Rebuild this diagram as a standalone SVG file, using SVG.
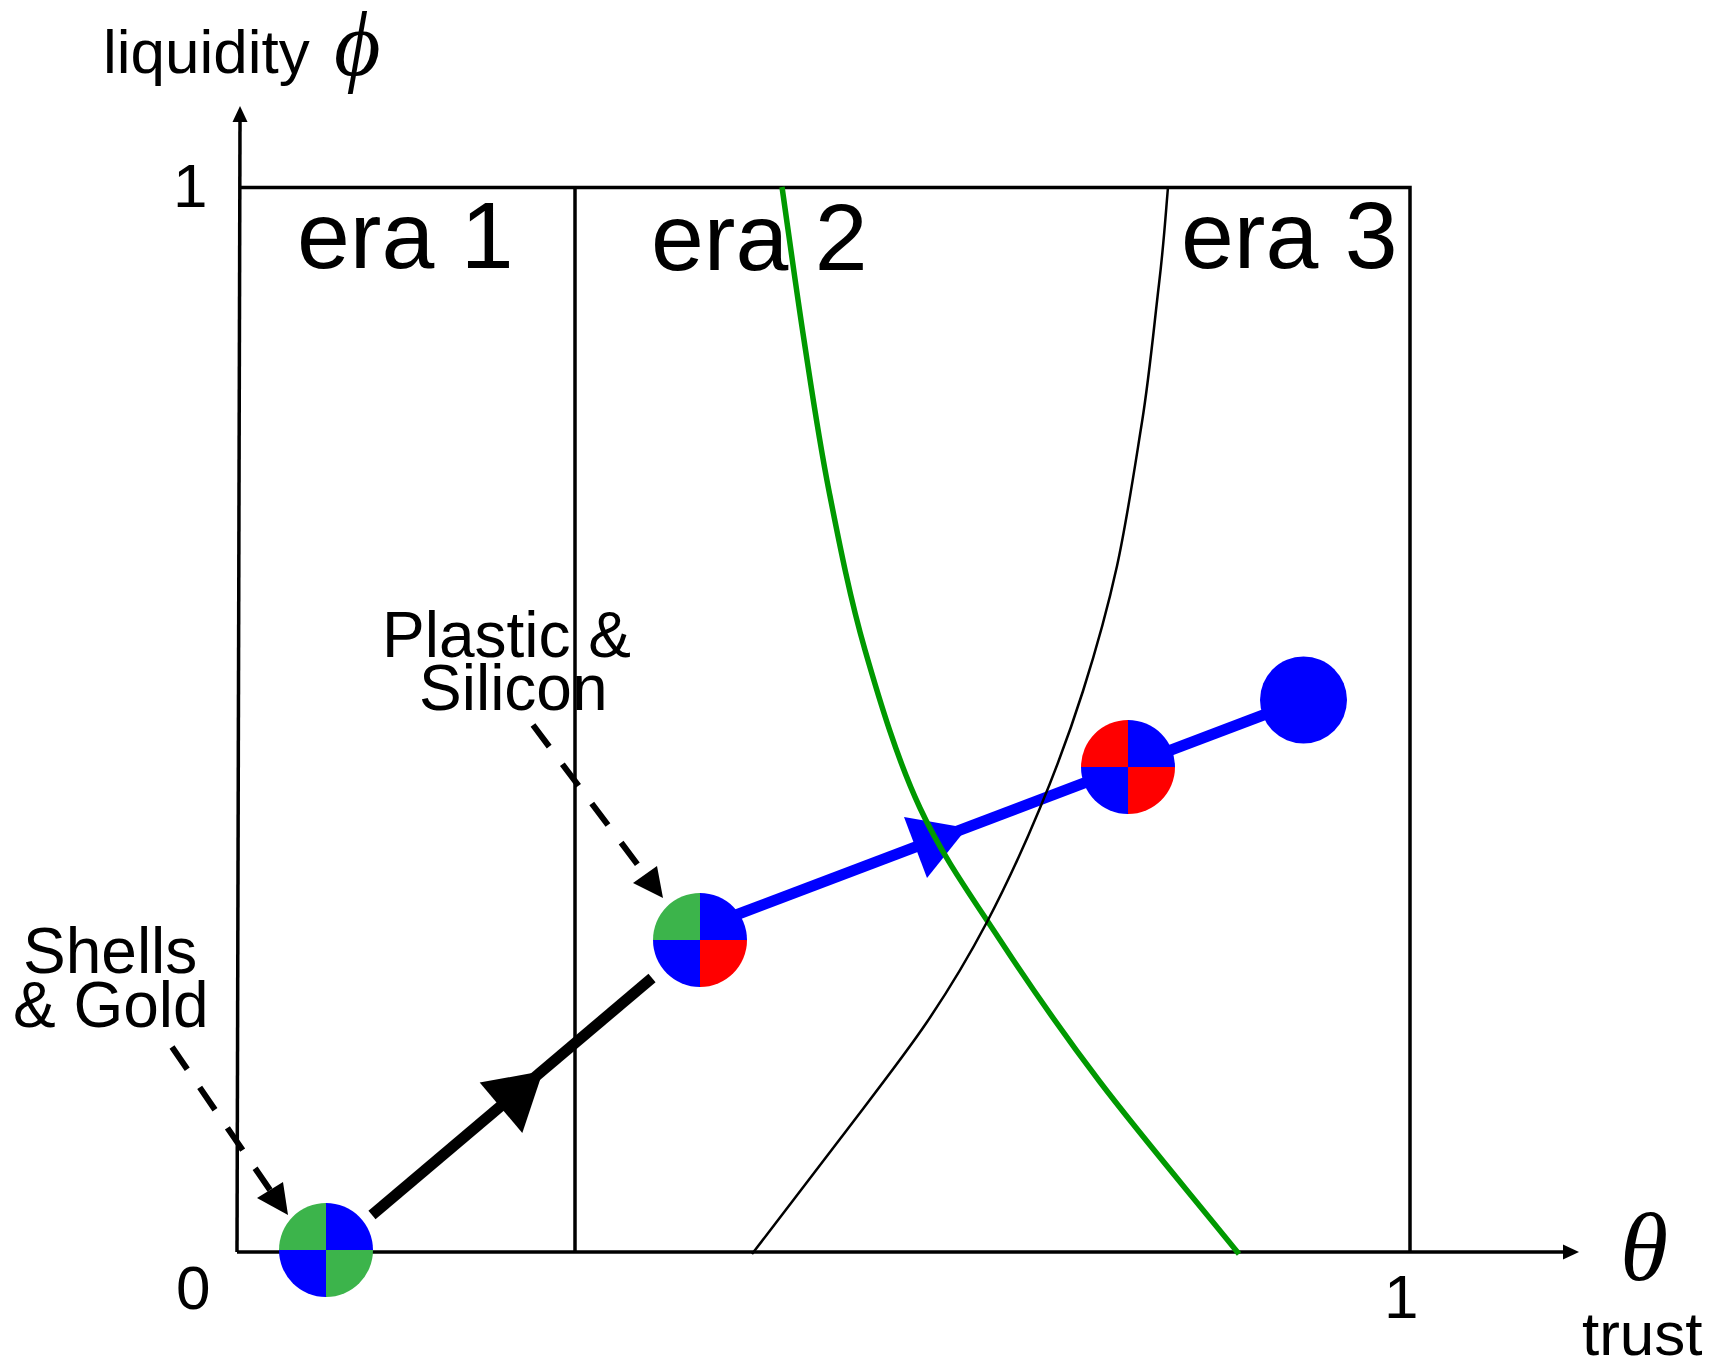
<svg xmlns="http://www.w3.org/2000/svg" xmlns:xlink="http://www.w3.org/1999/xlink" width="1715" height="1367" viewBox="0 0 1715 1367">
<style>
  .t { font-family: "Liberation Sans", Arial, sans-serif; fill: #000; }
  .lbl { font-size: 62px; }
  .note { font-size: 64px; }
  .era { font-size: 95px; }
  .greek { font-family: "Liberation Serif", "Times New Roman", serif; font-style: italic; fill: #000; }
  .ax { stroke: #000; stroke-width: 3.5; fill: none; }
  .dash { stroke: #000; stroke-width: 6; stroke-dasharray: 27 22; fill: none; }
  .g { fill: #3cb44b; }
  .b { fill: #0000ff; }
  .r { fill: #ff0000; }
</style>
<defs>
  <path id="qTL" d="M0,0 L-47,0 A47,47 0 0 1 0,-47 Z"/>
  <path id="qTR" d="M0,0 L0,-47 A47,47 0 0 1 47,0 Z"/>
  <path id="qBR" d="M0,0 L47,0 A47,47 0 0 1 0,47 Z"/>
  <path id="qBL" d="M0,0 L0,47 A47,47 0 0 1 -47,0 Z"/>
</defs>
<rect width="1715" height="1367" fill="#fff"/>

<g id="axes">
  <path class="ax" d="M237,1252 L240,120"/>
  <path d="M240,106 L232.5,122 L247.5,122 Z" fill="#000"/>
  <path class="ax" d="M237,1252 L1564,1252"/>
  <path d="M1579,1252 L1563,1244.5 L1563,1259.5 Z" fill="#000"/>
  <path class="ax" d="M240,187.5 L1410,187.5 L1410,1252"/>
  <path class="ax" d="M575,187.5 L575,1252"/>
</g>

<g id="labels">
  <text class="t lbl" x="103" y="73">liquidity</text>
  <text class="greek" x="334" y="75" font-size="90">ϕ</text>
  <text class="t lbl" x="173" y="207">1</text>
  <text class="t lbl" x="176" y="1309">0</text>
  <text class="t lbl" x="1384" y="1318">1</text>
  <text class="greek" x="1620" y="1280" font-size="98">θ</text>
  <text class="t lbl" x="1582" y="1355">trust</text>
  <text class="t era" x="297" y="268">era 1</text>
  <text class="t era" x="651" y="270">era 2</text>
  <text class="t era" x="1181" y="268">era 3</text>
  <text class="t note" x="382" y="657">Plastic &amp;</text>
  <text class="t note" x="419" y="710">Silicon</text>
  <text class="t note" x="23" y="973">Shells</text>
  <text class="t note" x="13" y="1027">&amp; Gold</text>
</g>

<g id="connectors">
  <path class="dash" d="M172,1047 L270,1190"/>
  <path d="M288,1215 L257,1198 L283,1182 Z" fill="#000"/>
  <path class="dash" d="M533,725 L645,874.5"/>
  <path d="M663,898 L633,883 L657,866 Z" fill="#000"/>
  <path d="M372,1215 L652,978" stroke="#000" stroke-width="11" fill="none"/>
  <path d="M543,1071 L479.7,1082.6 L522.3,1133 Z" fill="#000"/>
  <path d="M720,921 L1303,700" stroke="#0000ff" stroke-width="11" fill="none"/>
  <path d="M967,828 L904,817 L927,878 Z" fill="#0000ff"/>
</g>

<g id="curves">
  <path d="M782,187 C789.3,238 796.2,289.3 804,340 C811.8,390.7 818.8,439.3 829,491 C839.2,542.7 849.8,597.2 865,650 C880.2,702.8 897.5,759.7 920,808 C942.5,856.3 970,894.3 1000,940 C1030,985.7 1060.2,1029.7 1100,1082 C1139.8,1134.3 1192.7,1196.7 1239,1254" stroke="#009900" stroke-width="5.5" fill="none"/>
  <path d="M752,1254 C781.3,1215.7 810.8,1177.7 840,1139 C869.2,1100.3 902.5,1058.2 927,1022 C951.5,985.8 968.2,957.7 987,922 C1005.8,886.3 1024,846.5 1040,808 C1056,769.5 1070.2,731.3 1083,691 C1095.8,650.7 1107.2,610.8 1117,566 C1126.8,521.2 1134.5,468.7 1142,422 C1149.5,375.3 1154.2,324.2 1159,284 C1163.8,243.8 1165.3,219.3 1168,187" stroke="#000" stroke-width="2.5" fill="none"/>
</g>

<g id="disk1" transform="translate(326,1250)">
  <use xlink:href="#qTL" class="g"/><use xlink:href="#qTR" class="b"/>
  <use xlink:href="#qBR" class="g"/><use xlink:href="#qBL" class="b"/>
</g>
<g id="disk2" transform="translate(700,940)">
  <use xlink:href="#qTL" class="g"/><use xlink:href="#qTR" class="b"/>
  <use xlink:href="#qBR" class="r"/><use xlink:href="#qBL" class="b"/>
</g>
<g id="disk3" transform="translate(1128,767)">
  <use xlink:href="#qTL" class="r"/><use xlink:href="#qTR" class="b"/>
  <use xlink:href="#qBR" class="r"/><use xlink:href="#qBL" class="b"/>
</g>
<g id="bigdot">
  <circle cx="1303.5" cy="700" r="43.5" fill="#0000ff"/>
</g>
</svg>
